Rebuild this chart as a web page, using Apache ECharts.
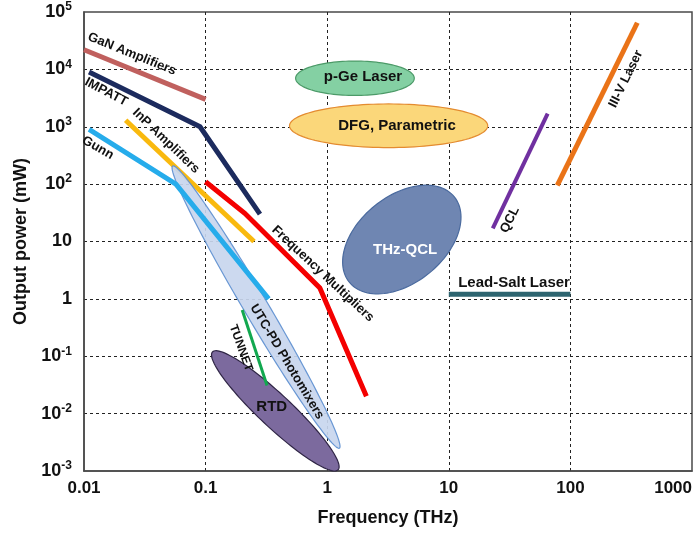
<!DOCTYPE html>
<html>
<head>
<meta charset="utf-8">
<script src="https://cdn.jsdelivr.net/npm/echarts@6/dist/echarts.min.js"></script>
<style>
html,body{margin:0;padding:0;background:#fff;}
#chart{width:697px;height:533px;}
</style>
</head>
<body>
<div id="chart"></div>
<script>
// ---- Data (frequency in THz, output power in mW) ----
const xTickLabels = ['0.01', '0.1', '1', '10', '100', '1000'];
const yTickLabels = [['10', '-3'], ['10', '-2'], ['10', '-1'], ['1', ''], ['10', ''], ['10', '2'], ['10', '3'], ['10', '4'], ['10', '5']];

const ganAmplifiers   = [[0.01, 22000], [0.1, 3000]];
const impatt          = [[0.011, 9000], [0.09, 1000], [0.28, 30]];
const inpAmplifiers   = [[0.022, 1300], [0.25, 10]];
const gunn            = [[0.011, 900], [0.057, 100], [0.33, 1]];
const freqMultipliers = [[0.1, 110], [0.21, 31], [0.87, 1.55], [2.1, 0.02]];
const tunnett         = [[0.2, 0.64], [0.32, 0.031]];
const qcl             = [[23, 17], [65, 1700]];
const iiiVLaser       = [[78, 95], [355, 65000]];
const leadSaltLaser   = [[10, 1.2], [100, 1.2]];

// regions: major-axis end points [x1, y1, x2, y2] and minor/major ratio
const pGeLaser        = [0.55, 7000, 5.2, 7000, 0.29];
const dfgParametric   = [0.49, 1040, 20.9, 1040, 0.22];
const thzQcl          = [1.52, 1.95, 11.1, 60, 0.64];
const utcPd           = [0.0536, 207, 1.26, 0.0025, 0.073];
const rtd             = [0.114, 0.119, 1.23, 0.00105, 0.19];

// text annotations at data positions
const annotations = [
  { text: 'GaN Amplifiers', x: 0.0248, y: 18500, rot: -22, size: 13 },
  { text: 'IMPATT', x: 0.0152, y: 4040, rot: -28, size: 13 },
  { text: 'InP Amplifiers', x: 0.0472, y: 566, rot: -44, size: 13 },
  { text: 'Gunn', x: 0.013, y: 428, rot: -30, size: 13 },
  { text: 'Frequency Multipliers', x: 0.92, y: 2.73, rot: -43, size: 13 },
  { text: 'p-Ge Laser', x: 1.97, y: 7380, rot: 0, size: 15 },
  { text: 'DFG, Parametric', x: 3.75, y: 1030, rot: 0, size: 15 },
  { text: 'III-V Laser', x: 286, y: 6800, rot: 64, size: 13 },
  { text: 'QCL', x: 31.8, y: 23.8, rot: 64, size: 13 },
  { text: 'THz-QCL', x: 4.37, y: 7.1, rot: 0, size: 15, color: '#ffffff' },
  { text: 'Lead-Salt Laser', x: 34.4, y: 1.9, rot: 0, size: 15 },
  { text: 'UTC-PD Photomixers', x: 0.467, y: 0.08, rot: -59, size: 13 },
  { text: 'TUNNET', x: 0.195, y: 0.14, rot: -70, size: 12 },
  { text: 'RTD', x: 0.35, y: 0.0131, rot: 0, size: 15 }
];

// ---- Chart ----
const FONT = '"Liberation Sans", Arial, sans-serif';
const chart = echarts.init(document.getElementById('chart'), null, { renderer: 'canvas' });

function lineSeries(name, data, color, width, z) {
  return {
    name: name, type: 'line', data: data, showSymbol: false, symbol: 'none',
    lineStyle: { color: color, width: width, cap: 'butt', join: 'miter' },
    z: z, silent: true, animation: false
  };
}

function ellipseSeries(name, item, fill, stroke, z, opacity) {
  return {
    name: name, type: 'custom', data: [item], z: z, silent: true, animation: false,
    encode: { x: [0, 2], y: [1, 3] },
    renderItem: function (params, api) {
      const p1 = api.coord([api.value(0), api.value(1)]);
      const p2 = api.coord([api.value(2), api.value(3)]);
      const ratio = api.value(4);
      const cx = (p1[0] + p2[0]) / 2, cy = (p1[1] + p2[1]) / 2;
      const dx = p2[0] - p1[0], dy = p2[1] - p1[1];
      const a = Math.sqrt(dx * dx + dy * dy) / 2;
      const b = a * ratio;
      const ang = Math.atan2(dy, dx);
      const ca = Math.cos(ang), sa = Math.sin(ang);
      const pts = [];
      for (let i = 0; i < 120; i++) {
        const t = i / 120 * Math.PI * 2;
        const ex = a * Math.cos(t), ey = b * Math.sin(t);
        pts.push([cx + ex * ca - ey * sa, cy + ex * sa + ey * ca]);
      }
      return {
        type: 'polygon', shape: { points: pts },
        style: { fill: fill, stroke: stroke, lineWidth: 1.2, opacity: opacity == null ? 1 : opacity }
      };
    }
  };
}

const labelSeries = {
  type: 'custom', z: 20, silent: true, animation: false,
  data: annotations.map(a => [a.x, a.y]),
  renderItem: function (params, api) {
    const a = annotations[params.dataIndex];
    const p = api.coord([api.value(0), api.value(1)]);
    return {
      type: 'text', x: p[0], y: p[1], rotation: a.rot * Math.PI / 180,
      style: {
        text: a.text, fill: a.color || '#111111',
        font: 'bold ' + a.size + 'px ' + FONT,
        align: 'center', verticalAlign: 'middle'
      }
    };
  }
};

const option = {
  backgroundColor: '#ffffff',
  animation: false,
  grid: { left: 84, right: 5, top: 12, bottom: 62, show: true, borderColor: '#4a4a4a', borderWidth: 1.5, backgroundColor: '#ffffff' },
  xAxis: {
    type: 'log', logBase: 10, min: 0.01, max: 1000,
    name: 'Frequency (THz)', nameLocation: 'middle', nameGap: 38,
    nameTextStyle: { fontFamily: FONT, fontWeight: 'bold', fontSize: 18, color: '#111' },
    axisLine: { show: true, lineStyle: { color: '#4a4a4a', width: 1.5 } },
    axisTick: { show: false },
    axisLabel: {
      margin: 9, fontFamily: FONT, fontWeight: 'bold', fontSize: 17, color: '#111',
      alignMaxLabel: 'right',
      formatter: function (v) { return xTickLabels[Math.round(Math.log10(v)) + 2]; }
    },
    splitLine: { show: true, showMinLine: false, showMaxLine: false, lineStyle: { color: '#222', width: 1, type: [3, 3] } }
  },
  yAxis: {
    type: 'log', logBase: 10, min: 0.001, max: 100000,
    name: 'Output power (mW)', nameLocation: 'middle', nameGap: 54,
    nameTextStyle: { fontFamily: FONT, fontWeight: 'bold', fontSize: 18, color: '#111' },
    axisLine: { show: true, lineStyle: { color: '#4a4a4a', width: 1.5 } },
    axisTick: { show: false },
    axisLabel: {
      margin: 12, color: '#111',
      formatter: function (v) {
        const lab = yTickLabels[Math.round(Math.log10(v)) + 3];
        return lab[1] ? '{b|' + lab[0] + '}{s|' + lab[1] + '}' : '{b|' + lab[0] + '}';
      },
      rich: {
        b: { fontFamily: FONT, fontWeight: 'bold', fontSize: 18, color: '#111', lineHeight: 22 },
        s: { fontFamily: FONT, fontWeight: 'bold', fontSize: 12, color: '#111', verticalAlign: 'top', lineHeight: 12, padding: [0, 0, 10, 0] }
      }
    },
    splitLine: { show: true, showMinLine: false, showMaxLine: false, lineStyle: { color: '#222', width: 1, type: [3, 3] } }
  },
  series: [
    ellipseSeries('DFG, Parametric', dfgParametric, '#fbd77a', '#e48b30', 2),
    ellipseSeries('p-Ge Laser', pGeLaser, '#84d0a3', '#4c9a68', 2),
    ellipseSeries('THz-QCL', thzQcl, '#6f86b2', '#4a6a9e', 2),
    ellipseSeries('RTD', rtd, '#7c6a9e', '#2f2545', 3),
    lineSeries('GaN Amplifiers', ganAmplifiers, '#c0605e', 5, 4),
    lineSeries('IMPATT', impatt, '#1c2b5e', 5, 4),
    lineSeries('InP Amplifiers', inpAmplifiers, '#f9b90e', 5, 4),
    ellipseSeries('UTC-PD Photomixers', utcPd, '#c8d6ee', '#5d8fd0', 5, 0.92),
    lineSeries('Gunn', gunn, '#26acEB', 5, 6),
    lineSeries('Frequency Multipliers', freqMultipliers, '#f40000', 5, 6),
    lineSeries('TUNNETT', tunnett, '#12a84f', 3, 6),
    lineSeries('QCL', qcl, '#7030a0', 4, 6),
    lineSeries('III-V Laser', iiiVLaser, '#ea7317', 5, 6),
    lineSeries('Lead-Salt Laser', leadSaltLaser, '#2e6570', 5, 6),
    labelSeries
  ]
};
chart.setOption(option);
</script>
</body>
</html>
